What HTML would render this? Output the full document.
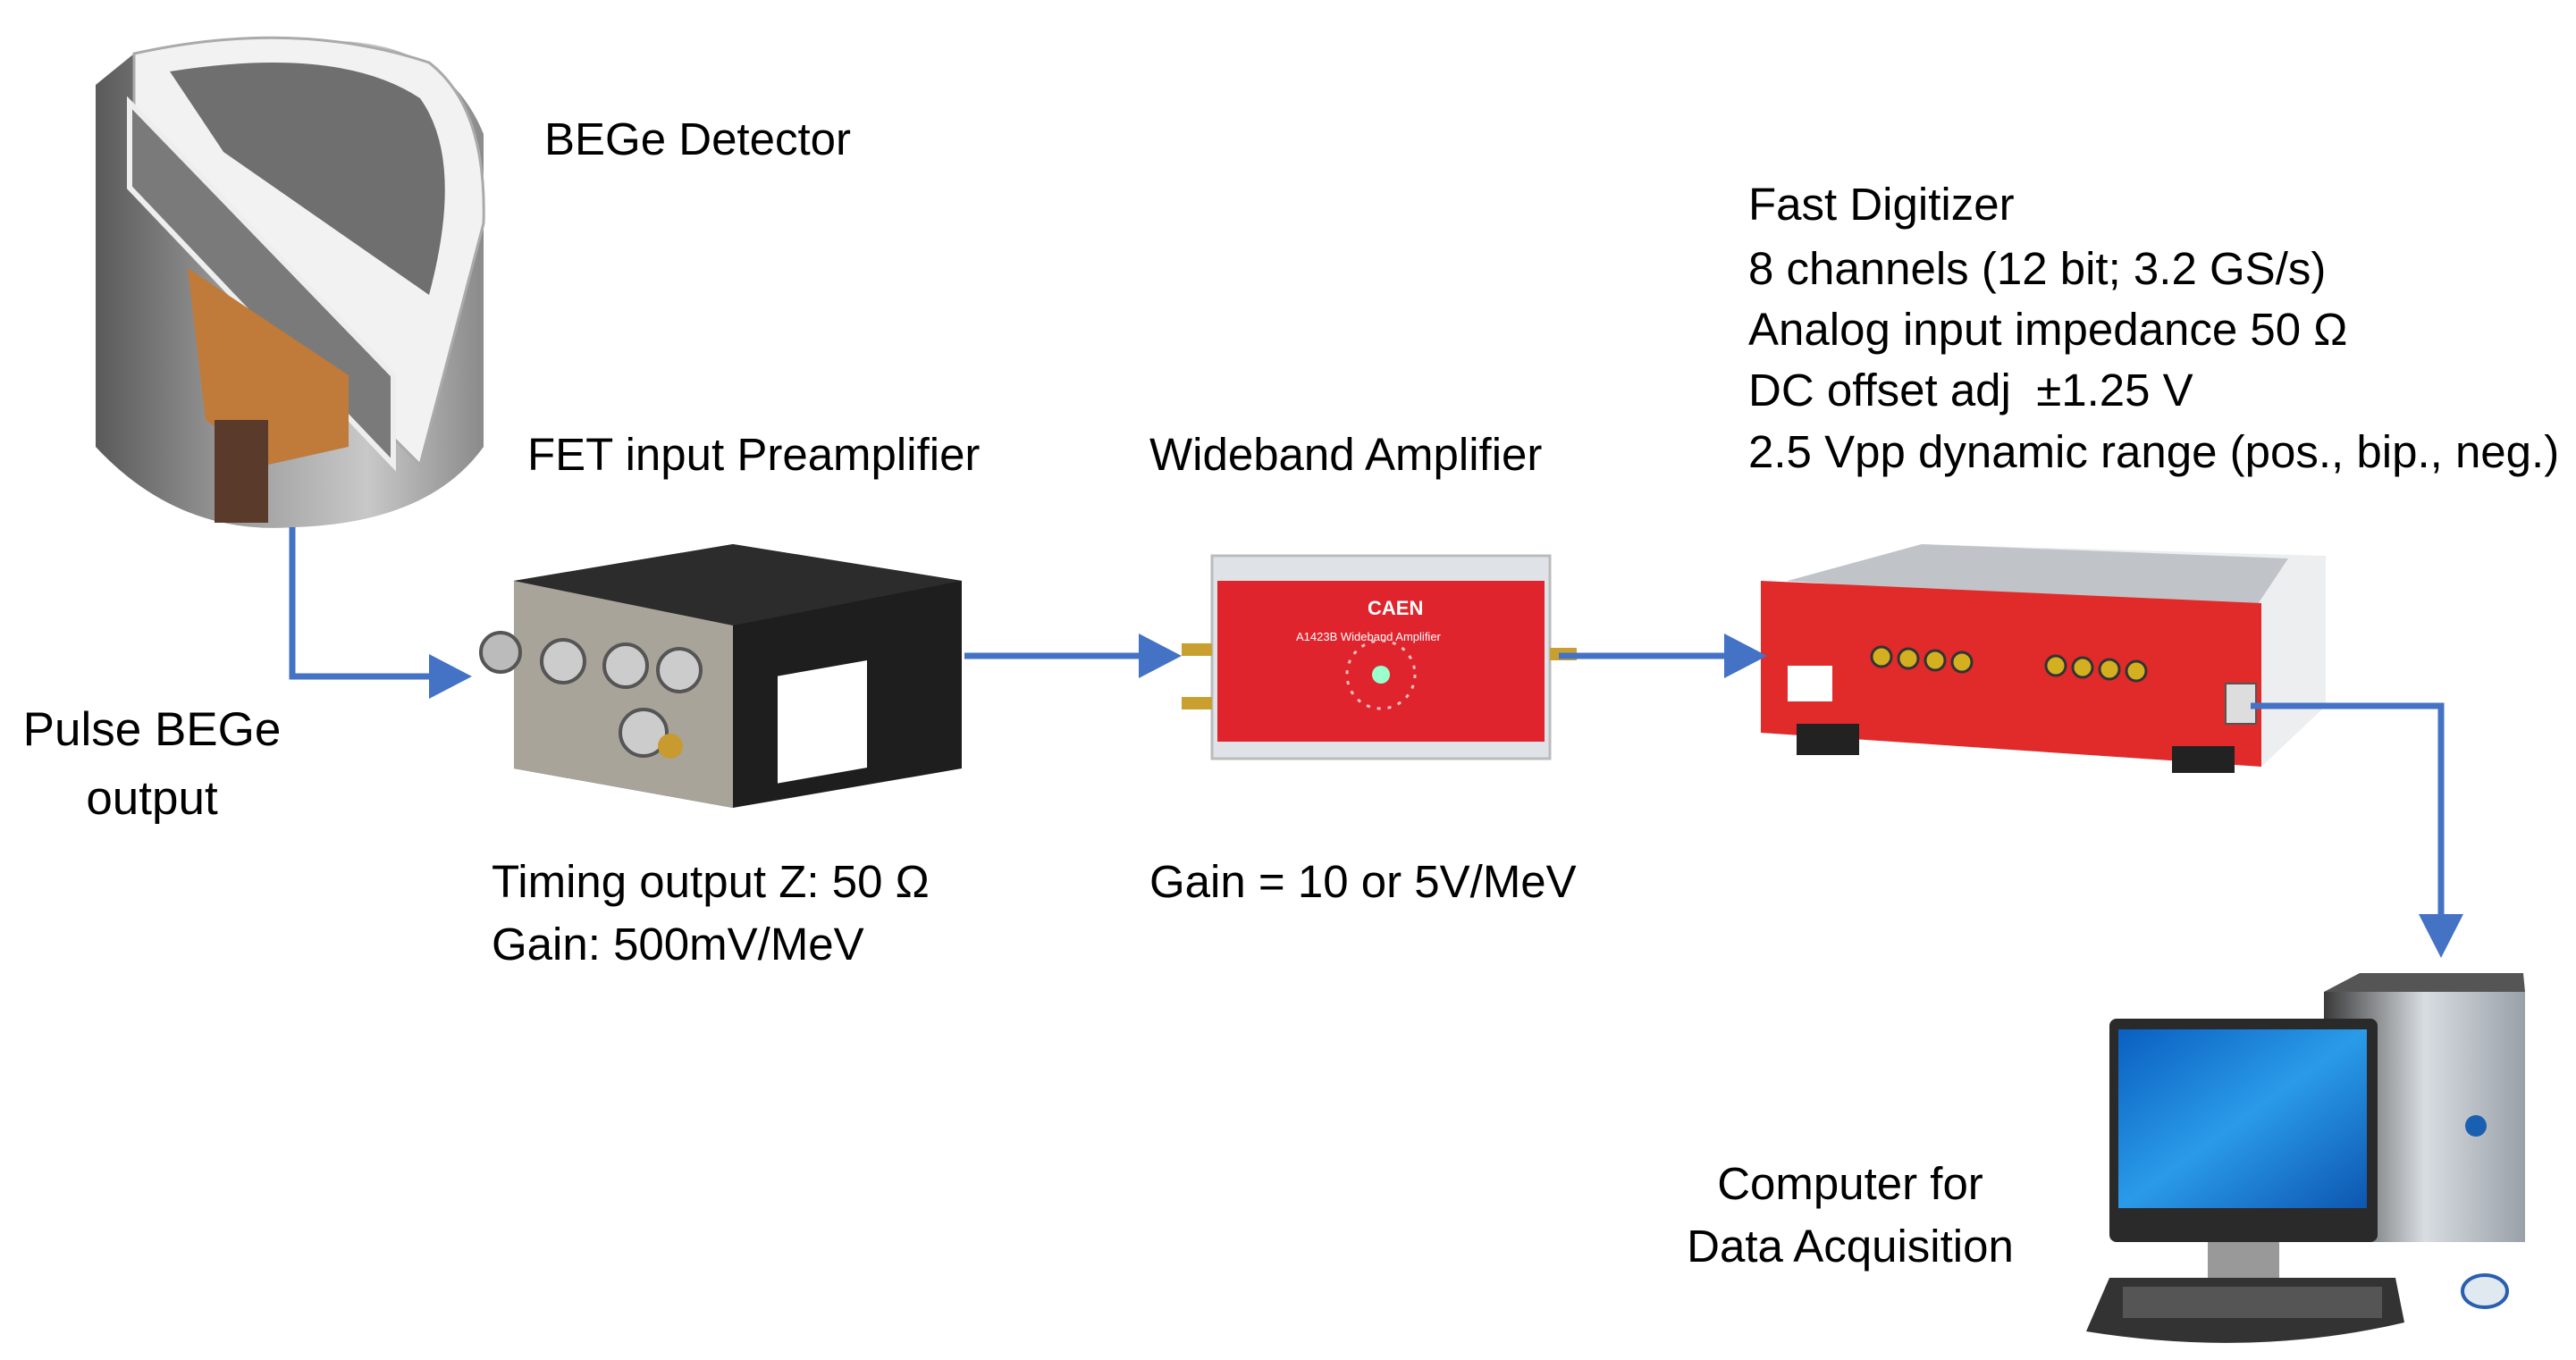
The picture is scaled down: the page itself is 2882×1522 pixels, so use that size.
<!DOCTYPE html>
<html><head><meta charset="utf-8"><style>
body{margin:0;background:#fff;}
#c{position:relative;width:2882px;height:1522px;overflow:hidden;background:#fff;font-family:"Liberation Sans",sans-serif;color:#000;}
.t{position:absolute;font-size:51px;white-space:nowrap;line-height:1;}
</style></head><body><div id="c">
<svg width="2882" height="1522" style="position:absolute;left:0;top:0">
<defs>
<linearGradient id="cyl" x1="0" x2="1"><stop offset="0" stop-color="#5a5a5a"/><stop offset="0.35" stop-color="#9a9a9a"/><stop offset="0.7" stop-color="#c8c8c8"/><stop offset="1" stop-color="#8a8a8a"/></linearGradient>
<linearGradient id="scr" x1="0" y1="0" x2="1" y2="1"><stop offset="0" stop-color="#0a5fc0"/><stop offset="0.5" stop-color="#2a9be8"/><stop offset="1" stop-color="#0d56b0"/></linearGradient>
<linearGradient id="tw" x1="0" x2="1"><stop offset="0" stop-color="#3a3a3a"/><stop offset="0.5" stop-color="#d8dde2"/><stop offset="1" stop-color="#9aa0a8"/></linearGradient>
</defs>
<!-- detector -->
<path d="M107 95 L107 500 Q200 600 330 590 Q480 585 541 500 L541 150 Q500 50 380 46 L150 60 Z" fill="url(#cyl)"/>
<path d="M150 60 Q330 20 480 70 Q545 120 541 250 L470 520 L150 200 Z" fill="#f2f2f2" stroke="#aaa" stroke-width="3"/>
<path d="M190 80 Q380 50 470 110 Q520 180 480 330 L250 170 Z" fill="#6f6f6f"/>
<path d="M145 115 L440 420 L440 520 L145 210 Z" fill="#7a7a7a" stroke="#eee" stroke-width="6"/>
<path d="M210 300 L390 420 L390 500 L300 520 L230 470 Z" fill="#c07a3a"/>
<rect x="240" y="470" width="60" height="115" fill="#5a3a2a"/>
<!-- preamp -->
<path d="M575 650 L820 609 L1076 650 L1076 860 L820 904 L575 860 Z" fill="#1e1e1e"/>
<path d="M575 650 L820 609 L1076 650 L820 700 Z" fill="#2c2c2c"/>
<path d="M575 650 L820 700 L820 904 L575 860 Z" fill="#a8a49a"/>
<circle cx="560" cy="730" r="22" fill="#bbb" stroke="#555" stroke-width="4"/>
<circle cx="630" cy="740" r="24" fill="#ccc" stroke="#555" stroke-width="4"/>
<circle cx="700" cy="745" r="24" fill="#ccc" stroke="#555" stroke-width="4"/>
<circle cx="760" cy="750" r="24" fill="#ccc" stroke="#555" stroke-width="4"/>
<circle cx="720" cy="820" r="26" fill="#ccc" stroke="#555" stroke-width="4"/>
<circle cx="750" cy="835" r="14" fill="#c89a30"/>
<rect x="870" y="750" width="100" height="120" fill="#fff" transform="skewY(-10) translate(0,160)"/>
<!-- amplifier -->
<rect x="1356" y="622" width="378" height="227" fill="#dfe3e8" stroke="#bbb" stroke-width="3"/>
<rect x="1362" y="650" width="366" height="180" fill="#e0242e"/>
<rect x="1322" y="720" width="34" height="14" fill="#c9a030"/><rect x="1322" y="780" width="34" height="14" fill="#c9a030"/>
<rect x="1734" y="725" width="30" height="14" fill="#c9a030"/>
<circle cx="1545" cy="755" r="38" fill="none" stroke="#f6c0c0" stroke-width="3" stroke-dasharray="4 8"/>
<circle cx="1545" cy="755" r="10" fill="#9fc"/>
<text x="1530" y="688" fill="#fff" font-size="22" font-weight="bold" font-family="Liberation Sans">CAEN</text>
<text x="1450" y="717" fill="#fff" font-size="13" font-family="Liberation Sans">A1423B Wideband Amplifier</text>
<!-- digitizer -->
<path d="M2000 650 L2150 609 L2602 622 L2602 790 L2530 858 L2000 820 Z" fill="#eceef0"/>
<path d="M2000 650 L2150 609 L2560 625 L2520 685 Z" fill="#c0c4c8"/>
<path d="M1970 650 L2530 675 L2530 858 L1970 820 Z" fill="#e12a2a"/>
<rect x="2010" y="810" width="70" height="35" fill="#222"/><rect x="2430" y="835" width="70" height="30" fill="#222"/>
<g fill="#d4b020" stroke="#333" stroke-width="3"><circle cx="2105" cy="735" r="11"/><circle cx="2135" cy="737" r="11"/><circle cx="2165" cy="739" r="11"/><circle cx="2195" cy="741" r="11"/><circle cx="2300" cy="745" r="11"/><circle cx="2330" cy="747" r="11"/><circle cx="2360" cy="749" r="11"/><circle cx="2390" cy="751" r="11"/></g>
<rect x="2000" y="745" width="50" height="40" fill="#fff"/>
<rect x="2490" y="765" width="34" height="45" fill="#ddd" stroke="#555" stroke-width="2"/>
<!-- computer -->
<rect x="2600" y="1110" width="225" height="280" fill="url(#tw)"/>
<path d="M2600 1110 L2640 1089 L2823 1089 L2825 1110 Z" fill="#555"/>
<circle cx="2770" cy="1260" r="12" fill="#1a60b0"/>
<rect x="2360" y="1140" width="300" height="250" rx="8" fill="#2a2a2a"/>
<rect x="2370" y="1152" width="278" height="200" fill="url(#scr)"/>
<rect x="2470" y="1390" width="80" height="40" fill="#999"/>
<path d="M2360 1430 L2680 1430 L2690 1480 Q2520 1520 2334 1490 Z" fill="#333"/>
<rect x="2375" y="1440" width="290" height="35" fill="#555"/>
<ellipse cx="2780" cy="1445" rx="25" ry="18" fill="#e0e8f0" stroke="#2a5fb0" stroke-width="4"/>
<!-- connectors -->
<g stroke="#4472C4" stroke-width="7" fill="none">
<polyline points="327,590 327,757 482,757"/>
<line x1="1079" y1="734" x2="1276" y2="734"/>
<line x1="1744" y1="734" x2="1931" y2="734"/>
<polyline points="2518,790 2731,790 2731,1025"/>
</g>
<g fill="#4472C4">
<polygon points="480,732 528,757 480,782"/>
<polygon points="1274,709 1322,734 1274,759"/>
<polygon points="1929,709 1977,734 1929,759"/>
<polygon points="2706,1023 2756,1023 2731,1072"/>
</g>
</svg>
<div class="t" style="left:609px;top:130px">BEGe Detector</div>
<div class="t" style="left:590px;top:483px">FET input Preamplifier</div>
<div class="t" style="left:1286px;top:483px">Wideband Amplifier</div>
<div class="t" style="left:1956px;top:203px">Fast Digitizer</div>
<div class="t" style="left:1956px;top:275px">8 channels (12 bit; 3.2 GS/s)</div>
<div class="t" style="left:1956px;top:343px">Analog input impedance 50 Ω</div>
<div class="t" style="left:1956px;top:411px">DC offset adj&nbsp; ±1.25 V</div>
<div class="t" style="left:1956px;top:480px">2.5 Vpp dynamic range (pos., bip., neg.)</div>
<div class="t" style="left:0;width:340px;text-align:center;top:778px;font-size:53px;line-height:77px">Pulse BEGe<br>output</div>
<div class="t" style="left:550px;top:961px">Timing output Z: 50 Ω</div>
<div class="t" style="left:550px;top:1031px">Gain: 500mV/MeV</div>
<div class="t" style="left:1286px;top:961px">Gain = 10 or 5V/MeV</div>
<div class="t" style="left:1820px;width:500px;text-align:center;top:1290px;line-height:70px">Computer for<br>Data Acquisition</div>
</div></body></html>
